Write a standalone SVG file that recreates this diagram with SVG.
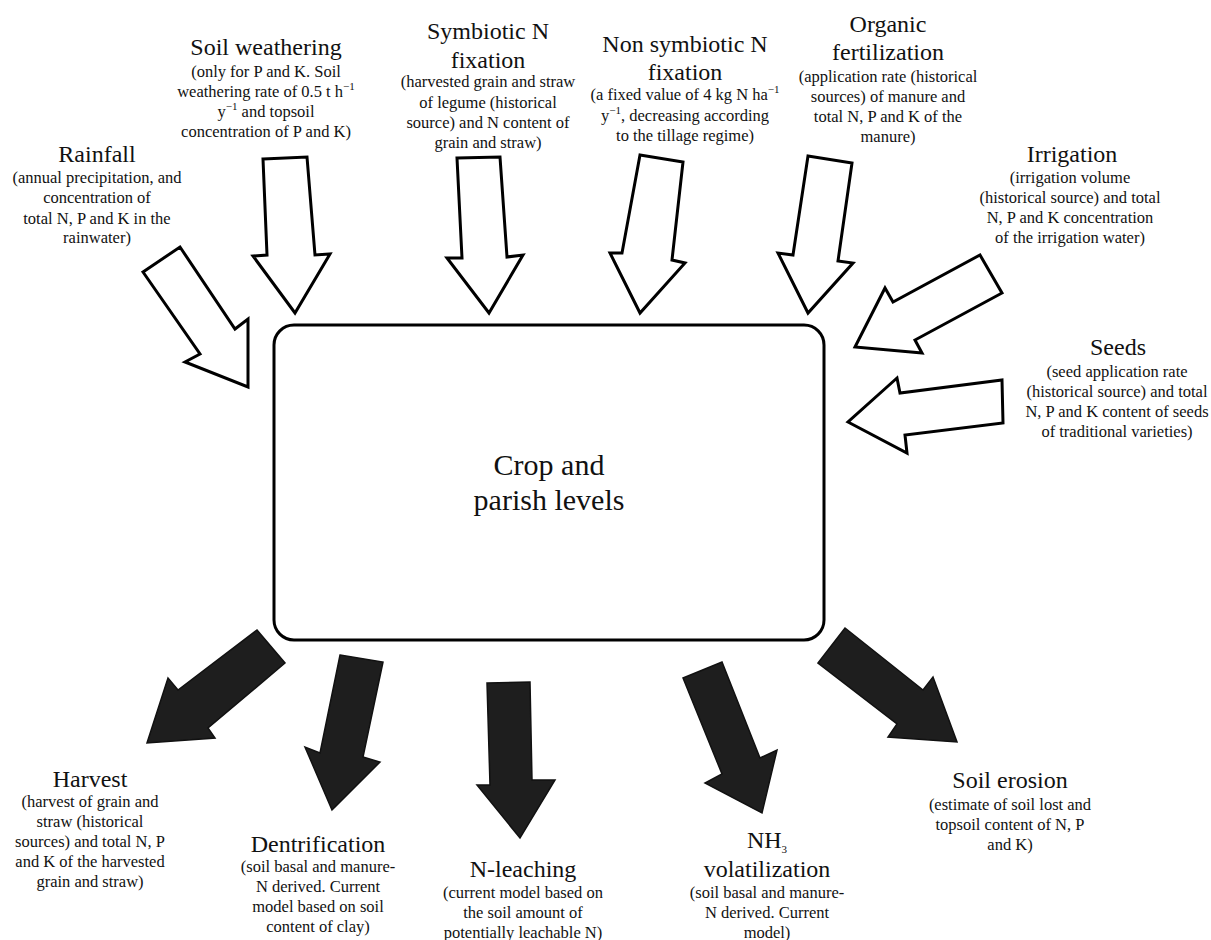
<svg xmlns="http://www.w3.org/2000/svg" width="1211" height="940" viewBox="0 0 1211 940">
<style>
text{font-family:'Liberation Serif','Times New Roman','DejaVu Serif',serif;fill:#111;text-anchor:middle}
.t{font-size:24px}
.s{font-size:16.5px}
.c{font-size:30px}
.sup{font-size:11px}
.in{fill:#fff;stroke:#000;stroke-width:3;stroke-linejoin:miter}
.out{fill:#1e1e1e;stroke:#111;stroke-width:1.5}
.box{fill:#fff;stroke:#000;stroke-width:3}
</style>
<rect width="1211" height="940" fill="#fff"/>
<g id="center">
<rect class="box" x="274" y="325" width="550" height="315" rx="20" ry="20"/>
<text class="c" x="549" y="475" font-family="Liberation Serif, serif">Crop and</text>
<text class="c" x="549" y="510" font-family="Liberation Serif, serif">parish levels</text>
</g>
<g id="connectors">
<polygon id="a-rainfall" class="in" points="143,272 180,247 235,329 248,319 248,387 185,362 200,354"/>
<polygon id="a-weathering" class="in" points="263,159 307,157 315,255 330,254 295,313 253,256 267,255"/>
<polygon id="a-symbiotic" class="in" points="457,158 500,157 507,257 523,255 489,313 447,258 462,258"/>
<polygon id="a-nonsymbiotic" class="in" points="640,155 683,162 672,260 685,263 640,313 610,253 622,253"/>
<polygon id="a-organic" class="in" points="808,156 852,163 838,261 853,263 808,313 778,253 793,255"/>
<polygon id="a-irrigation" class="in" points="980,255 1002,293 915,340 922,353 855,347 885,288 893,302"/>
<polygon id="a-seeds" class="in" points="1002,380 1003,423 905,435 907,453 848,422 897,378 900,393"/>
<polygon id="a-harvest" class="out" points="257,630 285,663 208,728 215,738 147,743 168,678 178,690"/>
<polygon id="a-dentrification" class="out" points="340,655 383,662 363,757 380,762 332,810 305,747 320,753"/>
<polygon id="a-leaching" class="out" points="487,683 530,682 532,780 555,780 520,838 477,785 490,785"/>
<polygon id="a-nh3" class="out" points="683,678 722,662 760,758 777,750 762,813 705,783 722,774"/>
<polygon id="a-erosion" class="out" points="818,663 845,628 923,690 933,677 957,742 888,737 897,724"/>
</g>
<g id="rainfall">
<text class="t" x="97" y="162">Rainfall</text>
<text class="s" x="97" y="183">(annual precipitation, and</text>
<text class="s" x="97" y="203">concentration of</text>
<text class="s" x="97" y="224">total N, P and K in the</text>
<text class="s" x="97" y="243">rainwater)</text>
</g>
<g id="weathering">
<text class="t" x="266" y="55">Soil weathering</text>
<text class="s" x="266" y="77">(only for P and K. Soil</text>
<text class="s" x="266" y="97">weathering rate of 0.5 t h<tspan class="sup" dy="-7">−1</tspan></text>
<text class="s" x="266" y="117">y<tspan class="sup" dy="-7">−1</tspan><tspan dy="7"> and topsoil</tspan></text>
<text class="s" x="266" y="137">concentration of P and K)</text>
</g>
<g id="symbiotic">
<text class="t" x="488" y="39">Symbiotic N</text>
<text class="t" x="488" y="68">fixation</text>
<text class="s" x="488" y="87">(harvested grain and straw</text>
<text class="s" x="488" y="108">of legume (historical</text>
<text class="s" x="488" y="128">source) and N content of</text>
<text class="s" x="488" y="148">grain and straw)</text>
</g>
<g id="nonsymbiotic">
<text class="t" x="685" y="52">Non symbiotic N</text>
<text class="t" x="685" y="80">fixation</text>
<text class="s" x="685" y="100">(a fixed value of 4 kg N ha<tspan class="sup" dy="-7">−1</tspan></text>
<text class="s" x="685" y="121">y<tspan class="sup" dy="-7">−1</tspan><tspan dy="7">, decreasing according</tspan></text>
<text class="s" x="685" y="141">to the tillage regime)</text>
</g>
<g id="organic">
<text class="t" x="888" y="32">Organic</text>
<text class="t" x="888" y="60">fertilization</text>
<text class="s" x="888" y="82">(application rate (historical</text>
<text class="s" x="888" y="102">sources) of manure and</text>
<text class="s" x="888" y="122">total N, P and K of the</text>
<text class="s" x="888" y="142">manure)</text>
</g>
<g id="irrigation">
<text class="t" x="1072" y="162">Irrigation</text>
<text class="s" x="1070" y="183">(irrigation volume</text>
<text class="s" x="1070" y="203">(historical source) and total</text>
<text class="s" x="1070" y="223">N, P and K concentration</text>
<text class="s" x="1070" y="243">of the irrigation water)</text>
</g>
<g id="seeds">
<text class="t" x="1118" y="355">Seeds</text>
<text class="s" x="1117" y="377">(seed application rate</text>
<text class="s" x="1117" y="397">(historical source) and total</text>
<text class="s" x="1117" y="417">N, P and K content of seeds</text>
<text class="s" x="1117" y="437">of traditional varieties)</text>
</g>
<g id="harvest">
<text class="t" x="90" y="787">Harvest</text>
<text class="s" x="90" y="807">(harvest of grain and</text>
<text class="s" x="90" y="827">straw (historical</text>
<text class="s" x="90" y="847">sources) and total N, P</text>
<text class="s" x="90" y="867">and K of the harvested</text>
<text class="s" x="90" y="887">grain and straw)</text>
</g>
<g id="dentrification">
<text class="t" x="318" y="852">Dentrification</text>
<text class="s" x="318" y="872">(soil basal and manure-</text>
<text class="s" x="318" y="892">N derived. Current</text>
<text class="s" x="318" y="912">model based on soil</text>
<text class="s" x="318" y="932">content of clay)</text>
</g>
<g id="leaching">
<text class="t" x="523" y="877">N-leaching</text>
<text class="s" x="523" y="898">(current model based on</text>
<text class="s" x="523" y="918">the soil amount of</text>
<text class="s" x="523" y="938">potentially leachable N)</text>
</g>
<g id="nh3">
<text class="t" x="767" y="848">NH<tspan class="sup" dy="5">3</tspan></text>
<text class="t" x="767" y="877">volatilization</text>
<text class="s" x="767" y="898">(soil basal and manure-</text>
<text class="s" x="767" y="918">N derived. Current</text>
<text class="s" x="767" y="938">model)</text>
</g>
<g id="erosion">
<text class="t" x="1010" y="788">Soil erosion</text>
<text class="s" x="1010" y="810">(estimate of soil lost and</text>
<text class="s" x="1010" y="830">topsoil content of N, P</text>
<text class="s" x="1010" y="850">and K)</text>
</g>
</svg>
